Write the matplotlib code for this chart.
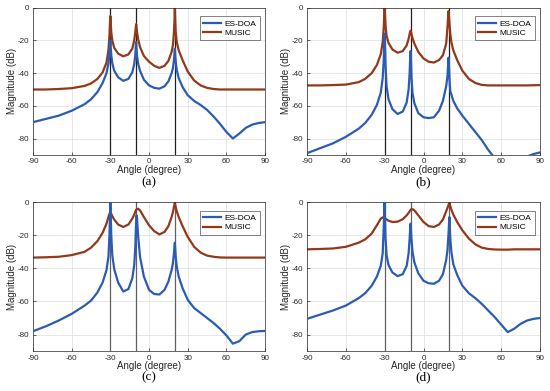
import numpy as np
import matplotlib
matplotlib.use('Agg')
import matplotlib.pyplot as plt

# common angle grid (degree), denser around the three sources
angles = [-90, -80, -70, -60, -50, -45, -40, -36, -33, -31.5,
          -30.7, -30.3, -30, -29.7, -29.3, -28.5, -27, -24, -20, -16,
          -13, -11.5, -10.7, -10.3, -10, -9.7, -9.3, -8.5, -7, -4,
          0, 4, 8, 12, 15, 17.5, 18.5, 19.3, 19.7, 20,
          20.3, 20.7, 21.5, 23, 26, 30, 35, 40, 45, 50,
          55, 60, 65, 70, 75, 80, 85, 90]
sources = [-30, -10, 20]
xticks = [-90, -60, -30, 0, 30, 60, 90]
yticks = [-80, -60, -40, -20, 0]
panel_labels = ['(a)', '(b)', '(c)', '(d)']

# (a)
music_a = [-50, -50, -49.7, -49.2, -47.8, -46.3, -43.5, -39.5, -33.5, -26,
           -17, -9, -5, -9, -15, -20, -24.5, -28, -29.7, -28.5,
           -25, -20, -15, -12, -10, -12, -15, -19, -24, -29.5,
           -33, -35.5, -36.8, -35.5, -32.5, -27, -23, -15, -8, 0,
           -8, -15, -21, -26, -32, -39, -44.5, -47.5, -49, -49.7,
           -50, -50, -50, -50, -50, -50, -50, -50]
esdoa_a = [-70, -68, -66, -63, -59, -56, -51.5, -46, -40, -34,
           -28, -23, -20, -24, -29, -34, -38.5, -42.5, -44.7, -43.5,
           -39.5, -34.5, -29, -24, -21, -25, -29.5, -34, -38.5, -44,
           -47.5, -49, -49.5, -48, -45, -40, -37, -32, -28, -25,
           -29, -33, -38, -43, -48.5, -53.5, -57, -59.5, -62.5, -66.5,
           -71, -76, -80, -77, -73.5, -71.5, -70.5, -70]

# (b)
music_b = [-47.5, -47.5, -47.3, -47, -45.5, -43.5, -40, -35, -28.5, -21,
           -12, -5, 0, -5, -11, -17, -21.5, -25.5, -27.5, -26.5,
           -23, -19, -16, -14.5, -14, -14.5, -16, -18.5, -22, -27,
           -31, -33, -33.5, -32, -29, -22, -12, -2, -6, -9,
           -12, -16, -21, -26, -32, -38.5, -43.5, -46, -47.2, -47.5,
           -47.5, -47.5, -47.5, -47.5, -47.5, -47.5, -47.4, -47.3]
esdoa_b = [-89, -86, -83, -79, -74, -70.5, -65.5, -59.5, -52, -43,
           -32, -22, -16, -24, -35, -48, -56, -62, -65, -63.5,
           -58, -50, -40, -31, -26.5, -32, -42, -52, -58.5, -64.5,
           -67, -67.5, -67, -63, -57, -48, -42, -30.5, -36, -42,
           -47, -51, -53, -57, -61.5, -66, -71, -76, -81, -87,
           -92, -95, -97, -96.5, -94, -91, -89.5, -88.5]

# (c)
music_c = [-33.5, -33.3, -33, -32, -30, -27.5, -23.5, -18.5, -13, -9,
           -7, -6.5, -6.3, -6.5, -7, -8.5, -10.5, -13.5, -15, -13.5,
           -10, -7.5, -6, -5, -4.7, -4.4, -4.2, -4, -5, -9,
           -14, -17.5, -19.5, -18, -14.5, -9, -6, -3, -1.5, -0.3,
           -1.5, -3, -5.5, -9, -14.5, -21, -27, -30.5, -32.3, -33,
           -33.4, -33.5, -33.5, -33.5, -33.5, -33.5, -33.5, -33.5]
esdoa_c = [-78, -75, -71.5, -67.5, -62.5, -59.5, -54.5, -48.5, -41, -33,
           -20, -8, 0, -8, -20, -32, -40.5, -48.5, -54, -52.5,
           -46, -38, -28, -18, -11, -8, -10, -20, -33, -45,
           -53, -55.5, -55.8, -53, -48, -41, -37, -31, -27, -24.5,
           -28, -33, -39, -45, -52, -59, -64, -67, -70, -73,
           -76.5, -80.5, -85.5, -84, -80, -78.5, -78, -77.8]

# (d)
music_d = [-28.5, -28.3, -28, -27, -24.5, -22.5, -19, -14, -10, -9.2,
           -9.3, -9.5, -9.6, -9.8, -10, -10.5, -11.2, -12, -11.8, -10.3,
           -8, -6.5, -5.5, -5, -4.7, -4.5, -4.3, -4.2, -5, -8,
           -12, -14.5, -15, -13.5, -10.5, -5.5, -3.5, -1.8, -0.8, -0.3,
           -1, -2.5, -4.5, -7.5, -12, -17, -22, -25.5, -27.5, -28.3,
           -28.6, -28.7, -28.7, -28.5, -28.5, -28.5, -28.5, -28.5]
esdoa_d = [-70.5, -68, -65.5, -62.5, -58, -55, -50.5, -45, -38.5, -31,
           -15, -5, 0, -10, -22, -32, -38, -42.5, -44.7, -43.5,
           -38.5, -31, -22, -16, -13, -16.5, -22, -30, -36.5, -43,
           -47.5, -49, -49.3, -47.5, -43.5, -35, -29, -19, -13, -9,
           -15, -22, -30, -37.5, -44, -50.5, -55, -58, -61.5, -65.5,
           -69.5, -74, -78.5, -76.5, -73.5, -71.5, -70.5, -70]

music_all = [music_a, music_b, music_c, music_d]
esdoa_all = [esdoa_a, esdoa_b, esdoa_c, esdoa_d]

blue = '#2b5cb4'
brown = '#92391a'
vline_colors = ['#202020', '#202020', '#606060', '#606060']

# axes rectangles [left, bottom, width, height] in figure fraction
rects = [[0.060, 0.604, 0.422, 0.376],
         [0.558, 0.604, 0.424, 0.376],
         [0.060, 0.102, 0.422, 0.381],
         [0.558, 0.102, 0.424, 0.381]]
label_y = [-0.19, -0.19, -0.175, -0.175]

plt.rcParams['font.family'] = ['Liberation Sans', 'DejaVu Sans']
plt.rcParams['axes.unicode_minus'] = False  # MATLAB style hyphen ticks
fig = plt.figure(figsize=(5.5, 3.91), dpi=100)

for i in range(4):
    ax = fig.add_axes(rects[i])
    ax.grid(True, color='#e3e3e3', linewidth=0.6)
    ax.set_axisbelow(True)
    for s in sources:
        ax.axvline(s, color=vline_colors[i], linewidth=0.9, zorder=1)
    ax.plot(angles, esdoa_all[i], color=blue, linewidth=1.6, label='ES-DOA', zorder=3)
    ax.plot(angles, music_all[i], color=brown, linewidth=1.6, label='MUSIC', zorder=2)
    ax.set_xlim(-90, 90)
    ax.set_ylim(-90, 0)
    ax.set_xticks(xticks)
    ax.set_yticks(yticks)
    ax.tick_params(direction='in', length=2, width=0.5, labelsize=5.8, colors='#262626', pad=2.5)
    for sp in ax.spines.values():
        sp.set_color('#262626')
        sp.set_linewidth(0.5)
    ax.set_xlabel('Angle (degree)', fontsize=7, labelpad=-0.5, color='#262626')
    ax.set_ylabel('Magnitude (dB)', fontsize=7, labelpad=1, color='#262626')
    leg = ax.legend(loc='upper right', fontsize=6, handlelength=2.2, borderpad=0.4,
                    labelspacing=0.2, handletextpad=0.4, fancybox=False,
                    bbox_to_anchor=(0.995, 0.97))
    leg.get_frame().set_edgecolor('#262626')
    leg.get_frame().set_linewidth(0.5)
    ax.text(0.5, label_y[i], panel_labels[i], transform=ax.transAxes, ha='center', va='center',
            fontsize=9.5, family='Liberation Serif')

fig.savefig('out.png', dpi=100)
